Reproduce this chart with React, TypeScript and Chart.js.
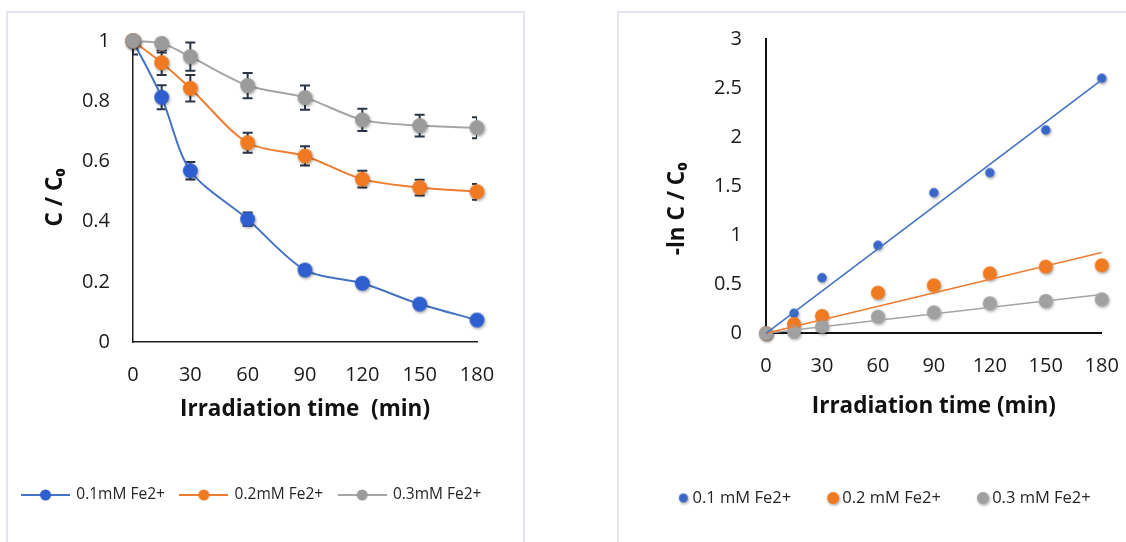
import React, { useEffect, useRef } from "react";
import { Chart, registerables } from "chart.js";

Chart.register(...registerables);

const FONT = "'Open Sans', 'DejaVu Sans', sans-serif";

// ---------- data ----------
const times = [0, 15, 30, 60, 90, 120, 150, 180];
const ratio01 = [1, 0.813, 0.569, 0.408, 0.239, 0.195, 0.126, 0.073];
const ratio02 = [1, 0.928, 0.843, 0.662, 0.618, 0.541, 0.513, 0.499];
const ratio03 = [1, 0.992, 0.948, 0.852, 0.812, 0.738, 0.719, 0.712];
const err01 = [0.045, 0.04, 0.029, 0.022, 0.015, 0.012, 0.01, 0.01];
const err02 = [0.02, 0.041, 0.044, 0.033, 0.032, 0.028, 0.026, 0.026];
const err03 = [0.015, 0.03, 0.047, 0.042, 0.04, 0.037, 0.036, 0.035];
const lnRatio01 = [0, 0.204, 0.567, 0.898, 1.435, 1.639, 2.075, 2.602];
const lnRatio02 = [0, 0.095, 0.177, 0.415, 0.49, 0.612, 0.68, 0.694];
const lnRatio03 = [0, 0.017, 0.068, 0.17, 0.214, 0.306, 0.33, 0.347];
const timeTicks = [0, 30, 60, 90, 120, 150, 180];
const ratioTicks = [0, 0.2, 0.4, 0.6, 0.8, 1];
const lnTicks = [0, 0.5, 1, 1.5, 2, 2.5, 3];
const leftLabels = ["0.1mM Fe2+", "0.2mM Fe2+", "0.3mM Fe2+"];
const rightLabels = ["0.1 mM Fe2+", "0.2 mM Fe2+", "0.3 mM Fe2+"];
const xTitleLeft = "Irradiation time  (min)";
const xTitleRight = "Irradiation time (min)";
const yTitleLeft = "C / C\u2080";
const yTitleRight = "-ln C / C\u2080";

// ---------- styles ----------
const lineColors = ["#4472c4", "#ed7d31", "#a5a5a5"];
const markerColors = ["#2f5fce", "#f07a22", "#9b9b9b"];
const rightMarkerColors = ["#3a66c9", "#ef7a20", "#a0a0a0"];
const rightMarkerRadius = [4.7, 7, 7];
const rightLegendRadius = [4.5, 6, 6];

const toPoints = (ys: number[]) => times.map((t, i) => ({ x: t, y: ys[i] }));

function slopeThroughOrigin(ys: number[]) {
  let sxy = 0;
  let sxx = 0;
  times.forEach((t, i) => {
    sxy += t * ys[i];
    sxx += t * t;
  });
  return sxy / sxx;
}

function markerImage(color: string, r: number, shadow: boolean) {
  const pad = 5;
  const size = Math.ceil(2 * r + 2 * pad);
  const c = document.createElement("canvas");
  c.width = size;
  c.height = size;
  const ctx = c.getContext("2d")!;
  if (shadow) {
    ctx.shadowColor = "rgba(0,0,0,0.35)";
    ctx.shadowBlur = 3;
    ctx.shadowOffsetX = 1;
    ctx.shadowOffsetY = 1.5;
  }
  ctx.fillStyle = color;
  ctx.beginPath();
  ctx.arc(size / 2, size / 2, r, 0, Math.PI * 2);
  ctx.fill();
  return c;
}

function legendLineImage(lineColor: string, markerColor: string) {
  const c = document.createElement("canvas");
  c.width = 49;
  c.height = 14;
  const ctx = c.getContext("2d")!;
  ctx.strokeStyle = lineColor;
  ctx.lineWidth = 2;
  ctx.beginPath();
  ctx.moveTo(0, 7);
  ctx.lineTo(49, 7);
  ctx.stroke();
  ctx.fillStyle = markerColor;
  ctx.beginPath();
  ctx.arc(24.5, 7, 5.5, 0, Math.PI * 2);
  ctx.fill();
  return c;
}

const errorBarPlugin = {
  id: "errorBars",
  beforeDatasetsDraw(chart: any) {
    const { ctx, chartArea } = chart;
    const xs = chart.scales.x;
    const ys = chart.scales.y;
    ctx.save();
    ctx.beginPath();
    ctx.rect(chartArea.left, chartArea.top, chartArea.right - chartArea.left, chartArea.bottom - chartArea.top);
    ctx.clip();
    ctx.strokeStyle = "#2b3548";
    ctx.lineWidth = 2;
    chart.data.datasets.forEach((ds: any) => {
      const errs = ds.errors;
      if (!errs) return;
      ds.data.forEach((pt: any, i: number) => {
        const px = xs.getPixelForValue(pt.x);
        const yt = ys.getPixelForValue(pt.y + errs[i]);
        const yb = ys.getPixelForValue(pt.y - errs[i]);
        ctx.beginPath();
        ctx.moveTo(px, yt);
        ctx.lineTo(px, yb);
        ctx.moveTo(px - 5, yt);
        ctx.lineTo(px + 5, yt);
        ctx.moveTo(px - 5, yb);
        ctx.lineTo(px + 5, yb);
        ctx.stroke();
      });
    });
    ctx.restore();
  },
};

const legendFromImages = (chart: any) =>
  chart.data.datasets
    .map((ds: any, i: number) => ({
      text: ds.label,
      pointStyle: ds.legendImage,
      datasetIndex: i,
      hidden: false,
      lineWidth: 0,
      fillStyle: "rgba(0,0,0,0)",
      strokeStyle: "rgba(0,0,0,0)",
      fontColor: "#262626",
    }))
    .filter((it: any) => !!it.pointStyle);

function fixedTicks(values: number[]) {
  return (scale: any) => {
    scale.ticks = values.map((v) => ({ value: v }));
  };
}

function leftConfig(): any {
  const series = [ratio01, ratio02, ratio03];
  const errs = [err01, err02, err03];
  return {
    type: "line",
    data: {
      datasets: series.map((ys, i) => ({
        label: leftLabels[i],
        data: toPoints(ys),
        errors: errs[i],
        borderColor: lineColors[i],
        backgroundColor: markerColors[i],
        borderWidth: 2,
        tension: 0.3,
        pointStyle: markerImage(markerColors[i], 7.5, true),
        pointRadius: 7.5,
        clip: false,
        order: 3 - i,
        legendImage: legendLineImage(lineColors[i], markerColors[i]),
      })),
    },
    plugins: [errorBarPlugin],
    options: {
      responsive: false,
      animation: false,
      devicePixelRatio: 1,
      layout: { padding: { left: 0, right: 0, top: 41, bottom: 29.25 } },
      plugins: {
        tooltip: { enabled: false },
        legend: {
          position: "bottom",
          align: "center",
          labels: {
            usePointStyle: true,
            pointStyleWidth: 46,
            padding: 16,
            font: { family: FONT, size: 15.5 },
            color: "#262626",
            generateLabels: legendFromImages,
          },
        },
      },
      scales: {
        x: {
          type: "linear",
          min: 0,
          max: 180,
          afterBuildTicks: fixedTicks(timeTicks),
          afterFit: (s: any) => {
            s.height = 129.25;
          },
          grid: { display: false, drawTicks: false },
          border: { display: true, color: "#1f1f1f", width: 1.5 },
          ticks: { padding: 21, font: { family: FONT, size: 20 }, color: "#1a1a1a", callback: (v: any) => String(v) },
          title: {
            display: true,
            text: xTitleLeft,
            font: { family: FONT, size: 22.5, weight: "bold" },
            color: "#111",
            padding: { top: 0, bottom: 48.25 },
          },
        },
        y: {
          type: "linear",
          min: 0,
          max: 1,
          afterBuildTicks: fixedTicks(ratioTicks),
          afterFit: (s: any) => {
            s.width = 145;
          },
          grid: { display: false, drawTicks: false },
          border: { display: true, color: "#1f1f1f", width: 1.5 },
          ticks: { padding: 23, font: { family: FONT, size: 20 }, color: "#1a1a1a", callback: (v: any) => String(v) },
          title: {
            display: true,
            text: yTitleLeft + "  ",
            font: { family: FONT, size: 22.5, weight: "bold" },
            color: "#111",
            padding: { top: 54.5, bottom: 0 },
          },
        },
        yPad: {
          type: "linear",
          position: "right",
          afterFit: (s: any) => {
            s.width = 39;
          },
          ticks: { display: false },
          grid: { display: false, drawTicks: false },
          border: { display: false },
        },
      },
    },
  };
}

function rightConfig(): any {
  const series = [lnRatio01, lnRatio02, lnRatio03];
  const pointSets = series.map((ys, i) => ({
    label: rightLabels[i],
    data: toPoints(ys),
    showLine: false,
    borderColor: rightMarkerColors[i],
    backgroundColor: rightMarkerColors[i],
    pointStyle: markerImage(rightMarkerColors[i], rightMarkerRadius[i], true),
    pointRadius: rightMarkerRadius[i],
    clip: false,
    order: 3 - i,
    legendImage: markerImage(rightMarkerColors[i], rightLegendRadius[i], true),
  }));
  const trendSets = series.map((ys, i) => {
    const k = slopeThroughOrigin(ys);
    const ends = [times[0], times[times.length - 1]];
    return {
      label: rightLabels[i] + " trend",
      data: ends.map((t) => ({ x: t, y: k * t })),
      showLine: true,
      borderColor: lineColors[i],
      borderWidth: 1.6,
      pointRadius: 0,
      clip: false,
      order: -1,
    };
  });
  return {
    type: "line",
    data: { datasets: [...pointSets, ...trendSets] },
    options: {
      responsive: false,
      animation: false,
      devicePixelRatio: 1,
      layout: { padding: { left: 0, right: 0, top: 39.3, bottom: 25.75 } },
      plugins: {
        tooltip: { enabled: false },
        legend: {
          position: "bottom",
          align: "center",
          labels: {
            usePointStyle: true,
            pointStyleWidth: 2,
            padding: 41,
            font: { family: FONT, size: 16.5 },
            color: "#262626",
            generateLabels: legendFromImages,
          },
        },
      },
      scales: {
        x: {
          type: "linear",
          min: 0,
          max: 180,
          afterBuildTicks: fixedTicks(timeTicks),
          afterFit: (s: any) => {
            s.height = 115.45;
          },
          grid: { display: false, drawTicks: false },
          border: { display: true, color: "#111", width: 2 },
          ticks: { padding: 20.7, font: { family: FONT, size: 20 }, color: "#1a1a1a", callback: (v: any) => String(v) },
          title: {
            display: true,
            text: xTitleRight,
            font: { family: FONT, size: 22.5, weight: "bold" },
            color: "#111",
            padding: { top: 0, bottom: 28.25 },
          },
        },
        y: {
          type: "linear",
          min: 0,
          max: 3,
          afterBuildTicks: fixedTicks(lnTicks),
          afterFit: (s: any) => {
            s.width = 133;
          },
          grid: { display: false, drawTicks: false },
          border: { display: true, color: "#111", width: 2 },
          ticks: { padding: 24, font: { family: FONT, size: 20 }, color: "#1a1a1a", callback: (v: any) => String(v) },
          title: {
            display: true,
            text: yTitleRight + "\u2003\u2003",
            font: { family: FONT, size: 22.5, weight: "bold" },
            color: "#111",
            padding: { top: 31.5, bottom: 0 },
          },
        },
        yPad: {
          type: "linear",
          position: "right",
          afterFit: (s: any) => {
            s.width = 38.3;
          },
          ticks: { display: false },
          grid: { display: false, drawTicks: false },
          border: { display: false },
        },
      },
    },
  };
}

function ChartCanvas({ make, left, width, height }: { make: () => any; left: number; width: number; height: number }) {
  const ref = useRef<HTMLCanvasElement | null>(null);
  useEffect(() => {
    const chart = new Chart(ref.current as HTMLCanvasElement, make());
    return () => chart.destroy();
  }, []);
  return (
    <canvas
      ref={ref}
      width={width}
      height={height}
      style={{ position: "absolute", left, top: 0, width, height }}
    />
  );
}

export default function App() {
  return (
    <div
      style={{
        position: "absolute",
        left: 0,
        top: 0,
        width: 1126,
        height: 542,
        overflow: "hidden",
        background: "#fff",
      }}
    >
      <div
        style={{
          position: "absolute",
          left: 6,
          top: 11,
          width: 519,
          height: 600,
          border: "2px solid #e3e7ed",
          boxSizing: "border-box",
        }}
      />
      <div
        style={{
          position: "absolute",
          left: 617,
          top: 11,
          width: 600,
          height: 600,
          border: "2px solid #e3e7ed",
          boxSizing: "border-box",
        }}
      />
      <ChartCanvas make={leftConfig} left={-12} width={528} height={542} />
      <ChartCanvas make={rightConfig} left={633} width={507} height={542} />
    </div>
  );
}
